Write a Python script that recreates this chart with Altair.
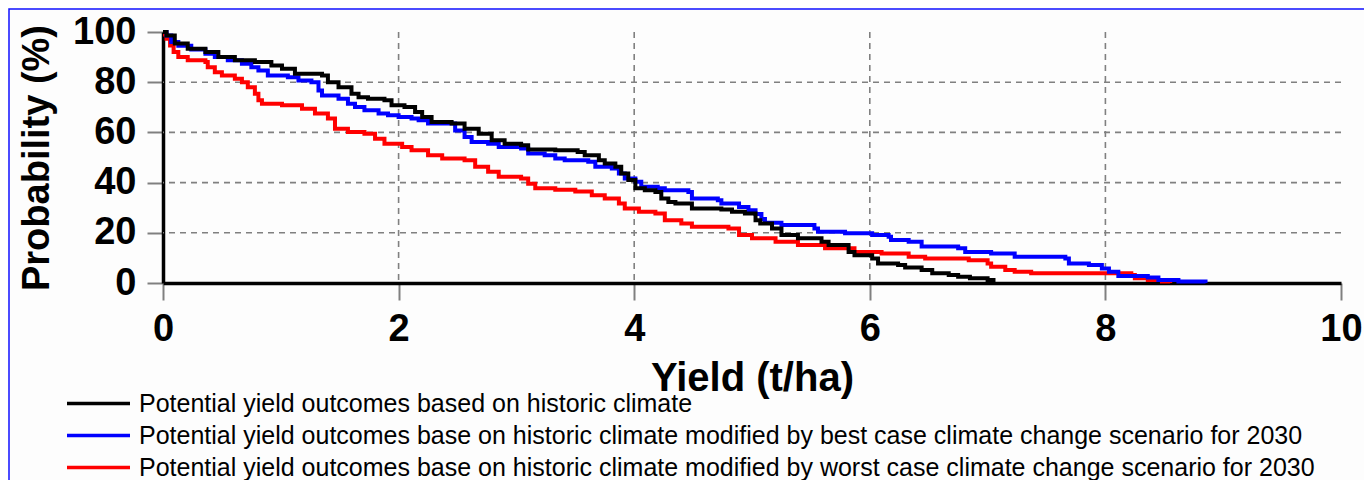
import altair as alt
import pandas as pd

series_names = [
    "Potential yield outcomes based on historic climate",
    "Potential yield outcomes base on historic climate modified by best case climate change scenario for 2030",
    "Potential yield outcomes base on historic climate modified by worst case climate change scenario for 2030",
]
series_colors = ["#000000", "#0000ff", "#ff0000"]

hist_yield = [0, 0.03, 0.1, 0.21, 0.36, 0.47, 0.61, 0.78, 0.92, 1.01, 1.12, 1.35, 1.40, 1.49, 1.6, 1.66,
              1.74, 1.88, 1.94, 2.05, 2.14, 2.2, 2.28, 2.45, 2.56, 2.68, 2.79, 2.9, 3.04, 3.10, 3.33, 3.52,
              3.58, 3.7, 3.75, 3.84, 3.89, 3.95, 4.01, 4.09, 4.18, 4.23, 4.29, 4.35, 4.49, 4.74, 4.83, 4.94,
              5.03, 5.07, 5.17, 5.25, 5.39, 5.59, 5.65, 5.82, 5.87, 6.02, 6.07, 6.24, 6.3, 6.44, 6.53, 6.67,
              6.75, 6.85, 7.0, 7.05]
hist_prob = [100, 98.6, 95.4, 93.3, 92, 90, 88.7, 88, 86.7, 85.4, 83.4, 82.7, 80, 78, 75.4, 74,
             73.4, 72.8, 70.8, 70.1, 68.1, 66.1, 64.1, 63.5, 61.5, 59.5, 56.9, 55.5, 54.9, 53.2, 52.9, 52.2,
             50.9, 48.9, 47.6, 46.3, 43.6, 41, 37.7, 37.0, 36.3, 33.7, 32.3, 31.7, 29.7, 29.3, 28.4, 27.7,
             25, 23.7, 21.7, 19.1, 17.8, 16.4, 15.1, 12.4, 11.1, 9.8, 7.8, 7.2, 6.2, 5.2, 3.9, 3.2,
             2.5, 1.9, 1.2, 0]

best_yield = [0, 0.03, 0.07, 0.13, 0.24, 0.36, 0.44, 0.55, 0.67, 0.75, 0.81, 0.89, 1.06, 1.15, 1.26, 1.32,
              1.35, 1.49, 1.57, 1.63, 1.71, 1.83, 1.91, 2.0, 2.11, 2.17, 2.25, 2.48, 2.56, 2.62, 2.76, 2.85,
              3.04, 3.1, 3.24, 3.33, 3.41, 3.61, 3.67, 3.81, 3.87, 3.92, 4.01, 4.06, 4.2, 4.26, 4.46, 4.49,
              4.71, 4.74, 4.89, 4.97, 5.03, 5.08, 5.11, 5.25, 5.53, 5.56, 5.79, 6.02, 6.16, 6.18, 6.33, 6.44,
              6.75, 6.81, 7.03, 7.23, 7.66, 7.69, 7.86, 7.97, 8.03, 8.11, 8.36, 8.45, 8.62, 8.85]
best_prob = [100, 98.6, 96, 94.5, 93, 91.3, 90, 88.7, 87.4, 86, 84.7, 82.7, 82, 80.7, 80, 76.7,
             74.7, 73.4, 71.4, 70.1, 68.8, 67.5, 66.8, 66.1, 65.5, 64.8, 63.5, 60.8, 58.2, 56.2, 55.5, 54.2,
             53.6, 51.6, 50.9, 49.6, 48.9, 48.3, 46.3, 45.6, 43.6, 41.6, 40.3, 38.3, 37.7, 37, 36.3, 33.7,
             33, 31.7, 30.3, 29, 27.5, 25.5, 24, 23.1, 21.7, 20.4, 19.8, 19.1, 18.4, 17.1, 16.4, 14.5,
             13.8, 12.4, 11.8, 10.5, 9.8, 7.8, 7.2, 5.8, 4.5, 2.8, 2.2, 1.2, 0.6, 0]

worst_yield = [0, 0.03, 0.06, 0.09, 0.13, 0.21, 0.36, 0.38, 0.44, 0.5, 0.61, 0.67, 0.72, 0.78, 0.81, 0.84,
               1.01, 1.18, 1.29, 1.4, 1.46, 1.57, 1.71, 1.8, 1.88, 2.03, 2.11, 2.25, 2.37, 2.56, 2.65, 2.76,
               2.85, 3.04, 3.1, 3.16, 3.33, 3.5, 3.64, 3.75, 3.87, 3.92, 4.04, 4.18, 4.26, 4.4, 4.49, 4.8,
               4.89, 5.0, 5.2, 5.39, 5.62, 5.87, 6.1, 6.33, 6.47, 6.84, 7.0, 7.03, 7.15, 7.23, 7.37, 8.22,
               8.25, 8.36, 8.48, 8.55]
worst_prob = [99, 97.3, 94.6, 92, 90, 88.7, 88, 86, 84, 82.7, 81.4, 80, 78, 75.4, 72.8, 71.4,
              70.8, 69.4, 67.5, 65.5, 61.5, 60.2, 59.5, 57.5, 55.5, 54.2, 52.9, 50.9, 49.6, 48.9, 46.3, 44.3,
              42.3, 41.6, 39.5, 37.7, 37.2, 36.5, 35, 33.7, 31.7, 29.7, 28.4, 27.7, 25, 23.7, 22.4, 21.7,
              19.1, 17.8, 16.4, 15.1, 13.8, 12.4, 11.8, 10.5, 9.8, 9.1, 7.8, 6.5, 5.2, 4.5, 3.9, 3.2,
              1.9, 1.2, 0.6, 0]

x_ticks = [0, 2, 4, 6, 8, 10]
y_ticks = [0, 20, 40, 60, 80, 100]
grid_x = [2, 4, 6, 8]
grid_y = [20, 40, 60, 80]

rows = []
# drawing order: red below, then blue, black on top
for name, xs, ys in [(series_names[2], worst_yield, worst_prob),
                     (series_names[1], best_yield, best_prob),
                     (series_names[0], hist_yield, hist_prob)]:
    for i, (xv, yv) in enumerate(zip(xs, ys)):
        rows.append({"yield": xv, "prob": yv, "series": name, "idx": i})
df = pd.DataFrame(rows)

FONT = "Liberation Sans"
xscale = alt.Scale(domain=[0, 10], nice=False, zero=False)
yscale = alt.Scale(domain=[0, 100], nice=False)

frame = alt.Chart(pd.DataFrame({"k": [0]})).mark_rect(
    filled=False, stroke="#1010ff", strokeWidth=1.5
).encode(x=alt.value(-154), x2=alt.value(1203), y=alt.value(-23), y2=alt.value(480))

vgrid = alt.Chart(pd.DataFrame({"g": grid_x})).mark_rule(
    color="#808080", strokeWidth=1.6, strokeDash=[6, 5]
).encode(x=alt.X("g:Q", scale=xscale))

hgrid = alt.Chart(pd.DataFrame({"g": grid_y})).mark_rule(
    color="#808080", strokeWidth=1.6, strokeDash=[6, 5]
).encode(y=alt.Y("g:Q", scale=yscale))

lines = alt.Chart(df).mark_line(interpolate="step-after", strokeWidth=4).encode(
    x=alt.X("yield:Q", scale=xscale,
            axis=alt.Axis(values=x_ticks, title="Yield (t/ha)", grid=False, format="d",
                          labelFlush=False, labelOverlap=False,
                          labelFontSize=38, labelFontWeight="bold", labelFont=FONT, labelColor="#000",
                          labelPadding=10, ticks=True, tickSize=17, tickColor="#808080", tickWidth=2,
                          domainColor="#000", domainWidth=3.5,
                          titleFontSize=40, titleFontWeight="bold", titleFont=FONT, titleColor="#000",
                          titlePadding=10)),
    y=alt.Y("prob:Q", scale=yscale,
            axis=alt.Axis(values=y_ticks, title="Probability (%)", grid=False, format="d",
                          labelFlush=False, labelOverlap=False,
                          labelFontSize=38, labelFontWeight="bold", labelFont=FONT, labelColor="#000",
                          labelPadding=11, ticks=True, tickSize=16, tickColor="#808080", tickWidth=2,
                          domainColor="#000", domainWidth=3.5,
                          titleFontSize=38, titleFontWeight="bold", titleFont=FONT, titleColor="#000",
                          titlePadding=16)),
    color=alt.Color("series:N", scale=alt.Scale(domain=series_names, range=series_colors),
                    legend=alt.Legend(title=None, orient="none", legendX=-98, legendY=359,
                                      symbolType="stroke", symbolSize=3969, symbolStrokeWidth=3.5,
                                      clipHeight=25, rowPadding=6, labelFontSize=25, labelFont=FONT,
                                      labelColor="#000", labelLimit=0, labelOffset=7, padding=0,
                                      direction="vertical")),
    order=alt.Order("idx:Q"),
)

chart = alt.layer(frame, vgrid, hgrid, lines).properties(
    width=1178, height=251,
    padding={"left": 155, "top": 24, "right": 23, "bottom": 197},
    autosize=alt.AutoSizeParams(type="none"),
    background="#fdfdfd",
).configure_view(strokeWidth=0)

chart.save("out.html", embed_options={"renderer": "svg", "actions": False})
